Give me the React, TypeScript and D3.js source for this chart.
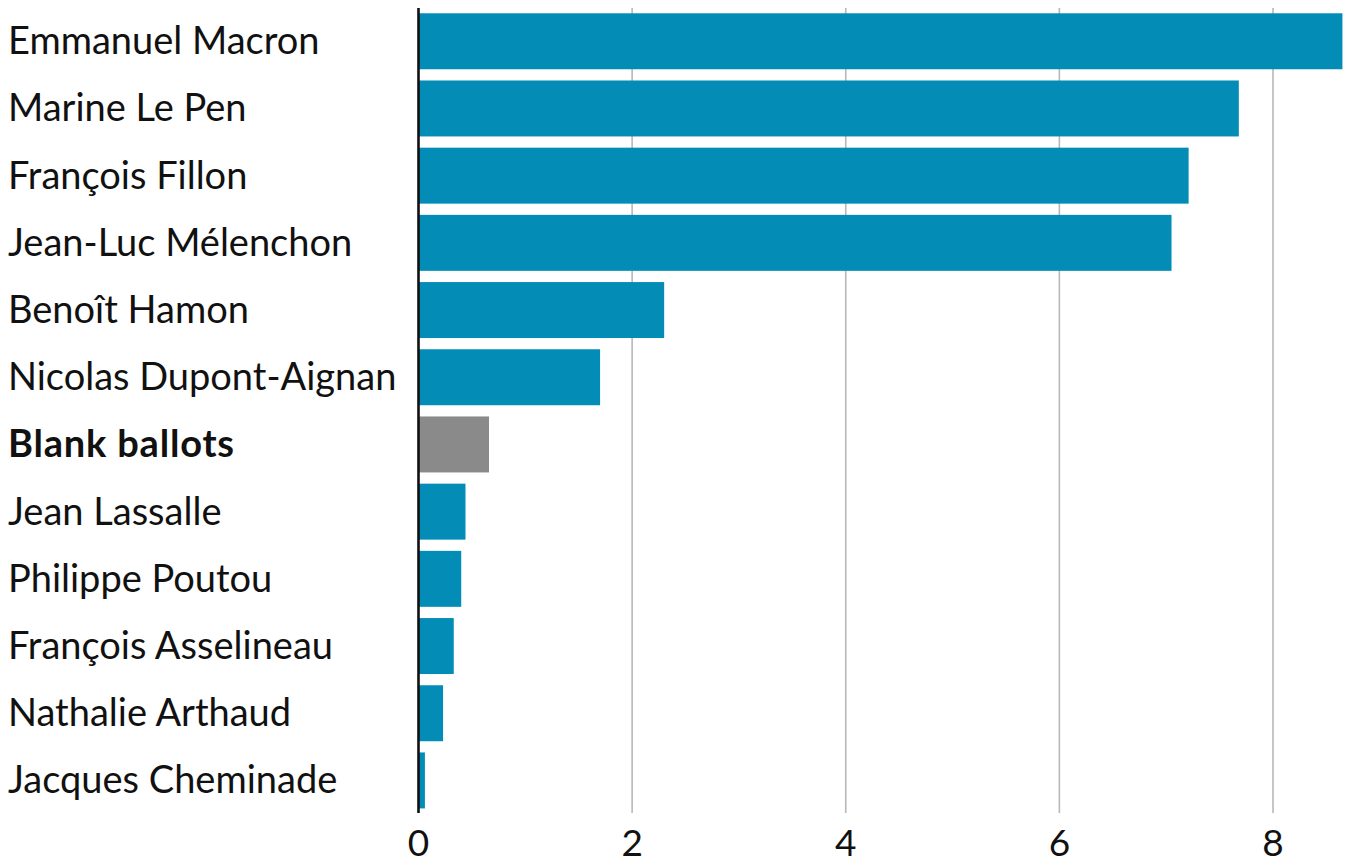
import React from "react";
import * as d3 from "d3";

const candidates = [
  "Emmanuel Macron",
  "Marine Le Pen",
  "François Fillon",
  "Jean-Luc Mélenchon",
  "Benoît Hamon",
  "Nicolas Dupont-Aignan",
  "Blank ballots",
  "Jean Lassalle",
  "Philippe Poutou",
  "François Asselineau",
  "Nathalie Arthaud",
  "Jacques Cheminade",
];
const values = [8.65, 7.68, 7.21, 7.05, 2.3, 1.7, 0.66, 0.44, 0.4, 0.33, 0.23, 0.06];
const highlighted = ["Blank ballots"];
const xTicks = [0, 2, 4, 6, 8];

const W = 1349;
const H = 865;
const FONT = "Lato, 'Open Sans', sans-serif";

export default function App() {
  const x = d3.scaleLinear().domain([0, 8]).range([418.5, 1273]);
  const y = d3
    .scaleBand<string>()
    .domain(candidates)
    .range([7.7, 814])
    .paddingInner(0.167)
    .paddingOuter(0.083);

  return (
    <svg
      width={W}
      height={H}
      style={{ position: "absolute", left: 0, top: 0, background: "#fff" }}
    >
      {xTicks.filter((t) => t > 0).map((t) => (
        <line
          key={"g" + t}
          x1={x(t)}
          x2={x(t)}
          y1={8}
          y2={813}
          stroke="#b8b8b8"
          strokeWidth={1.6}
        />
      ))}
      {candidates.map((c, i) => (
        <rect
          key={c}
          x={x(0)}
          y={y(c)}
          width={x(values[i]) - x(0)}
          height={y.bandwidth()}
          fill={highlighted.includes(c) ? "#8a8a8a" : "#038db6"}
        />
      ))}
      <line x1={x(0)} x2={x(0)} y1={8} y2={813} stroke="#111" strokeWidth={2.6} />
      {candidates.map((c) => {
        const bold = highlighted.includes(c);
        return (
          <text
            key={"l" + c}
            x={8}
            y={(y(c) as number) + y.bandwidth() / 2 + 13}
            fontFamily={FONT}
            fontSize={38}
            fontWeight={bold ? 700 : 400}
            letterSpacing={bold ? 0.8 : 0}
            fill="#111"
          >
            {c}
          </text>
        );
      })}
      {xTicks.map((t) => (
        <text
          key={"t" + t}
          x={x(t)}
          y={856}
          textAnchor="middle"
          fontFamily={FONT}
          fontSize={37}
          fill="#111"
        >
          {t}
        </text>
      ))}
    </svg>
  );
}
